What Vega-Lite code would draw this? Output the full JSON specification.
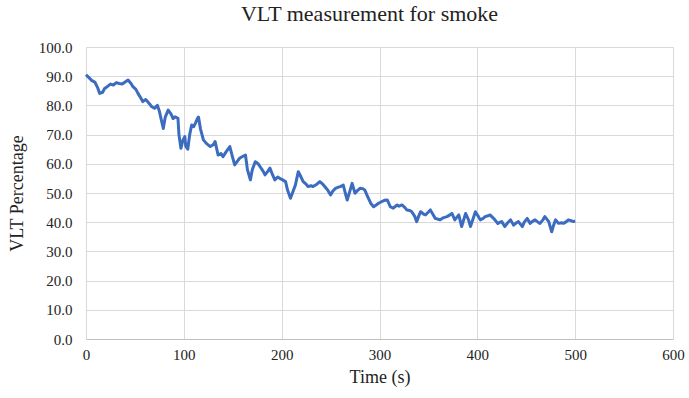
{
  "$schema": "https://vega.github.io/schema/vega-lite/v6.json",
  "autosize": "none",
  "width": 587,
  "height": 292,
  "padding": {"left": 86, "top": 47, "right": 16, "bottom": 59},
  "background": "white",
  "title": {"text": "VLT measurement  for smoke", "font": "Liberation Serif", "fontSize": 22, "fontWeight": "normal", "color": "#222222", "anchor": "middle", "frame": "group", "offset": 14, "dx": -10},
  "config": {"view": {"stroke": null}},
  "data": {"values": [
    {"t":0,"v":90.5},{"t":3,"v":89.5},{"t":6,"v":88.5},{"t":9,"v":88},{"t":12,"v":86},{"t":14,"v":84.1},{"t":17,"v":84.5},{"t":19,"v":85.8},{"t":22,"v":86.5},{"t":25,"v":87.3},{"t":28,"v":87},{"t":31,"v":87.8},{"t":34,"v":87.5},{"t":37,"v":87.3},{"t":40,"v":88},{"t":43,"v":88.7},{"t":46,"v":87.5},{"t":48,"v":86.4},{"t":51,"v":85.5},{"t":53,"v":84.2},{"t":56,"v":82.5},{"t":58,"v":81.3},{"t":61,"v":82},{"t":63,"v":81.3},{"t":65,"v":80.5},{"t":67,"v":79.6},{"t":70,"v":79},{"t":73,"v":80},{"t":75,"v":78},{"t":77,"v":75},{"t":79,"v":72.1},{"t":81,"v":76},{"t":84,"v":78.4},{"t":87,"v":77},{"t":89,"v":75.5},{"t":91,"v":76.1},{"t":94,"v":75.6},{"t":95,"v":70},{"t":97,"v":65.3},{"t":99,"v":68},{"t":101,"v":69.3},{"t":102,"v":66},{"t":104,"v":65},{"t":106,"v":70},{"t":108,"v":73.3},{"t":110,"v":72.7},{"t":112,"v":74},{"t":114,"v":75.6},{"t":115,"v":76},{"t":117,"v":72},{"t":120,"v":68.2},{"t":123,"v":67},{"t":127,"v":65.9},{"t":130,"v":66.5},{"t":132,"v":67.6},{"t":135,"v":63},{"t":138,"v":63.5},{"t":140,"v":62.4},{"t":143,"v":64},{"t":147,"v":65.9},{"t":150,"v":62},{"t":152,"v":59.6},{"t":155,"v":61},{"t":157,"v":61.9},{"t":160,"v":62.5},{"t":163,"v":63},{"t":165,"v":58},{"t":168,"v":54.5},{"t":170,"v":58},{"t":173,"v":60.7},{"t":176,"v":60},{"t":178,"v":59},{"t":181,"v":57.5},{"t":183,"v":56.2},{"t":186,"v":57.5},{"t":188,"v":58.5},{"t":191,"v":56},{"t":193,"v":54.5},{"t":196,"v":55.5},{"t":198,"v":55},{"t":201,"v":54.5},{"t":204,"v":53.9},{"t":206,"v":51},{"t":209,"v":48.2},{"t":211,"v":50},{"t":214,"v":52.7},{"t":217,"v":57.3},{"t":219,"v":56},{"t":222,"v":53.9},{"t":225,"v":53},{"t":227,"v":52.2},{"t":230,"v":52.5},{"t":232,"v":52.2},{"t":236,"v":53},{"t":239,"v":53.9},{"t":242,"v":53},{"t":244,"v":52.2},{"t":247,"v":51},{"t":250,"v":49.3},{"t":252,"v":50.5},{"t":255,"v":51.6},{"t":258,"v":52},{"t":260,"v":52.2},{"t":263,"v":52.7},{"t":265,"v":50},{"t":267,"v":47.6},{"t":270,"v":51},{"t":272,"v":53.3},{"t":275,"v":49.9},{"t":278,"v":51},{"t":280,"v":51.6},{"t":283,"v":51.5},{"t":285,"v":51},{"t":288,"v":48.7},{"t":291,"v":46.5},{"t":294,"v":45.3},{"t":297,"v":46},{"t":299,"v":46.5},{"t":302,"v":47},{"t":305,"v":47.5},{"t":308,"v":47.6},{"t":311,"v":45.3},{"t":314,"v":44.8},{"t":318,"v":45.9},{"t":320,"v":45.5},{"t":323,"v":45.9},{"t":326,"v":45},{"t":328,"v":44.2},{"t":331,"v":44},{"t":333,"v":43.6},{"t":336,"v":42},{"t":338,"v":40.2},{"t":340,"v":42},{"t":342,"v":43.6},{"t":345,"v":42.8},{"t":347,"v":42.5},{"t":350,"v":43.5},{"t":352,"v":44.2},{"t":355,"v":42.5},{"t":357,"v":41.3},{"t":360,"v":41},{"t":362,"v":40.8},{"t":365,"v":41.5},{"t":369,"v":41.9},{"t":372,"v":42.5},{"t":374,"v":43},{"t":377,"v":40.8},{"t":381,"v":42.5},{"t":384,"v":38.5},{"t":388,"v":43},{"t":391,"v":40.8},{"t":393,"v":38.5},{"t":396,"v":41.5},{"t":398,"v":43.6},{"t":401,"v":42},{"t":403,"v":40.8},{"t":406,"v":41.3},{"t":408,"v":41.9},{"t":411,"v":42.2},{"t":413,"v":42.5},{"t":416,"v":41.5},{"t":418,"v":40.8},{"t":421,"v":39.5},{"t":423,"v":40},{"t":425,"v":40.2},{"t":428,"v":38.5},{"t":431,"v":39.8},{"t":434,"v":40.8},{"t":437,"v":39},{"t":440,"v":39.8},{"t":442,"v":40.2},{"t":446,"v":38.5},{"t":448,"v":40},{"t":451,"v":41.3},{"t":454,"v":39.6},{"t":456,"v":40.2},{"t":459,"v":40.8},{"t":462,"v":40},{"t":464,"v":39.6},{"t":467,"v":40.8},{"t":469,"v":41.9},{"t":473,"v":40.2},{"t":476,"v":36.7},{"t":478,"v":39},{"t":480,"v":40.8},{"t":483,"v":39.6},{"t":486,"v":39.8},{"t":488,"v":39.6},{"t":491,"v":40.2},{"t":493,"v":40.8},{"t":496,"v":40.5},{"t":498,"v":40.2},{"t":500,"v":40.4}
  ]},
  "mark": {"type": "line", "color": "#3b6cc0", "strokeWidth": 3, "strokeJoin": "round"},
  "encoding": {
    "x": {"field": "t", "type": "quantitative", "scale": {"domain": [0, 600], "nice": false},
      "axis": {"title": "Time (s)", "values": [0,100,200,300,400,500,600], "format": "d", "labelFlush": false, "grid": true, "gridColor": "#d9d9d9", "gridWidth": 1, "domainColor": "#bfbfbf", "domainWidth": 1, "ticks": false, "labelPadding": 8, "labelFont": "Liberation Serif", "labelFontSize": 15, "labelColor": "#222222", "titleFont": "Liberation Serif", "titleFontSize": 18, "titleFontWeight": "normal", "titleColor": "#222222", "titlePadding": 6}},
    "y": {"field": "v", "type": "quantitative", "scale": {"domain": [0, 100], "nice": false},
      "axis": {"title": "VLT Percentage", "values": [0,10,20,30,40,50,60,70,80,90,100], "format": ".1f", "grid": true, "gridColor": "#d9d9d9", "gridWidth": 1, "domain": false, "ticks": false, "labelPadding": 14, "labelFont": "Liberation Serif", "labelFontSize": 15, "labelColor": "#222222", "titleFont": "Liberation Serif", "titleFontSize": 18, "titleFontWeight": "normal", "titleColor": "#222222", "titlePadding": 12}}
  }
}
